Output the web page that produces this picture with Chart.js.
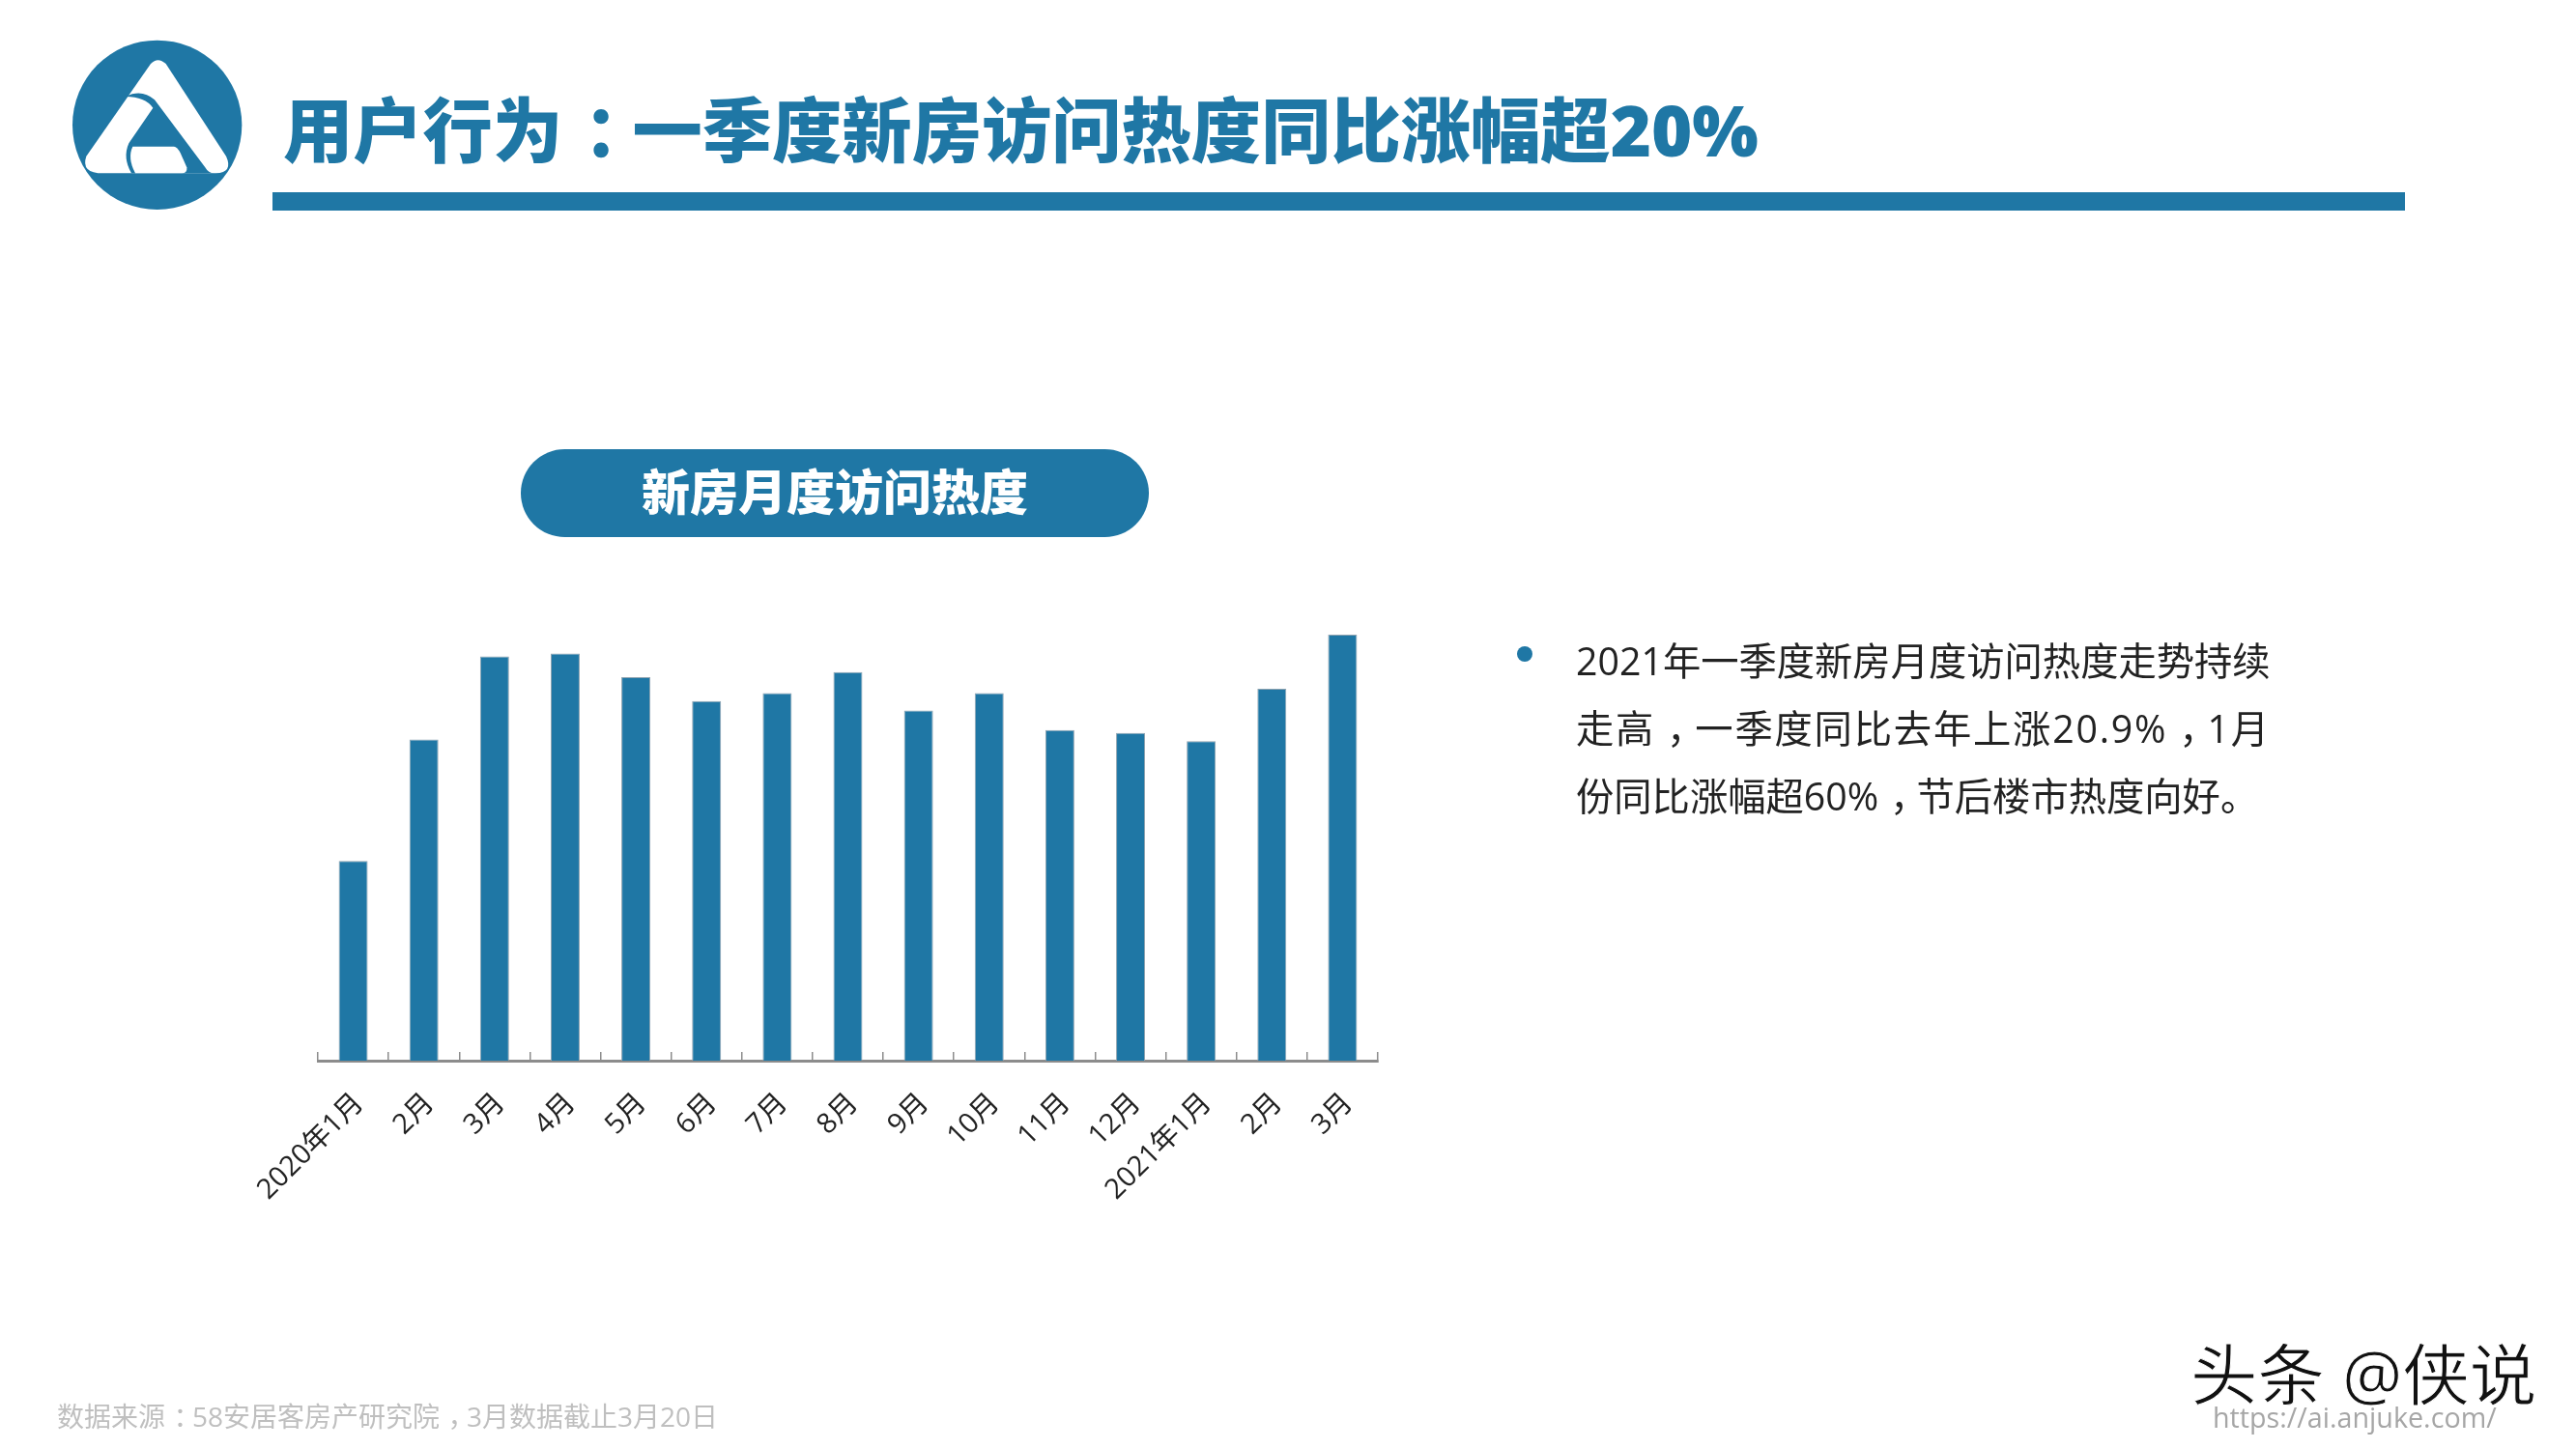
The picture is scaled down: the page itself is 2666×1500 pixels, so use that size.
<!DOCTYPE html>
<html lang="zh">
<head>
<meta charset="utf-8">
<title>新房月度访问热度</title>
<script src="https://cdn.jsdelivr.net/npm/chart.js@4"></script>
<style>
html, body { margin: 0; padding: 0; background: #fff; }
body { width: 2666px; height: 1500px; position: relative; overflow: hidden; font-family: "Open Sans", "Noto Sans CJK SC", sans-serif; }
#chartBox { position: absolute; left: 0; top: 0; width: 2666px; height: 1500px; }
.abs { position: absolute; white-space: nowrap; }
.comma { position: relative; left: 0.3em; }
#logo { left: 50px; top: 20px; width: 240px; height: 220px; }
#title { left: 293px; top: 84px; font-size: 72.3px; line-height: 100px; font-weight: 900; color: #1f77a5; }
#rule { left: 282px; top: 199px; width: 2207px; height: 19px; background: #1f77a5; }
#pill { left: 539px; top: 465px; width: 650px; height: 91px; border-radius: 46px; background: #1f77a5; color: #fff; font-size: 50px; line-height: 88px; font-weight: 900; text-align: center; }
#bullet { left: 1570px; top: 669px; width: 16px; height: 16px; border-radius: 50%; background: #1f77a5; }
.note { left: 1631px; font-size: 39.3px; line-height: 70px; color: #222; }
#source { left: 59px; top: 1447px; font-size: 28px; line-height: 38px; color: #bfbfbf; }
#mark { left: 2267px; top: 1377px; font-size: 69.5px; line-height: 90px; color: #111; -webkit-text-stroke: 1px #fff; }
#url { left: 2290px; top: 1448px; font-size: 28.7px; line-height: 38px; color: #a6a6a6; }
</style>
</head>
<body>
<div id="chartBox"><canvas id="heatChart"></canvas></div>

<svg id="logo" class="abs" viewBox="0 0 720 660">
  <circle cx="338" cy="328" r="263" fill="#1f77a5"/>
  <path d="M318 138 Q340 115 365 138 L552 425 Q575 475 520 478 L170 478 Q100 478 118 425 Z" fill="#fff"/>
  <path d="M240 240 Q290 215 330 250 L487 460 Q497 478 515 478 L258 478 Q230 430 250 385 L325 275 Q300 240 240 240 Z" fill="#1f77a5"/>
  <path d="M262 395 L390 395 Q400 395 410 415 L430 460 Q432 478 415 478 L270 478 Q245 430 262 395 Z" fill="#fff"/>
</svg>

<div id="title" class="abs">用户行为<span class="comma">：</span>一季度新房访问热度同比涨幅超20%</div>
<div id="rule" class="abs"></div>
<div id="pill" class="abs">新房月度访问热度</div>

<div id="bullet" class="abs"></div>
<div class="abs note" style="top:649px">2021年一季度新房月度访问热度走势持续</div>
<div class="abs note" style="top:719px;letter-spacing:1.8px">走高<span class="comma">，</span>一季度同比去年上涨20.9%<span class="comma">，</span>1月</div>
<div class="abs note" style="top:789px">份同比涨幅超60%<span class="comma">，</span>节后楼市热度向好。</div>

<div id="source" class="abs">数据来源<span class="comma">：</span>58安居客房产研究院<span class="comma">，</span>3月数据截止3月20日</div>
<div id="mark" class="abs">头条 @侠说</div>
<div id="url" class="abs">https://ai.anjuke.com/</div>

<script>
// values, the original has no y axis so this is an index (last bar = 100)
const months = ['2020年1月', '2月', '3月', '4月', '5月', '6月', '7月', '8月', '9月', '10月', '11月', '12月', '2021年1月', '2月', '3月'];
const heat = [46.9, 75.4, 94.9, 95.6, 90.0, 84.4, 86.3, 91.2, 82.2, 86.3, 77.6, 76.9, 75.0, 87.3, 100];

const ctx = document.getElementById('heatChart').getContext('2d');
new Chart(ctx, {
    type: 'bar',
    data: {
        labels: months,
        datasets: [{
            data: heat,
            backgroundColor: '#1f77a5',
            borderColor: '#8fa3b0',
            borderWidth: 1,
            categoryPercentage: 1,
            barPercentage: 0.41
        }]
    },
    options: {
        responsive: true,
        maintainAspectRatio: false,
        animation: false,
        layout: { padding: { left: 329, right: 1240, top: 657, bottom: 0 } },
        plugins: { legend: { display: false }, tooltip: { enabled: false } },
        scales: {
            x: {
                afterFit: scale => { scale.height = 402; },
                border: { color: '#8c8c8c', width: 3 },
                grid: { drawOnChartArea: false, color: '#8c8c8c', lineWidth: 1.5, tickLength: -9 },
                ticks: {
                    color: '#222',
                    font: { family: '"Open Sans", "Noto Sans CJK SC", sans-serif', size: 29 },
                    minRotation: 45,
                    maxRotation: 45,
                    padding: 36,
                    labelOffset: 6,
                    autoSkip: false
                }
            },
            y: { display: false, min: 0, max: 100 }
        }
    }
});
</script>
</body>
</html>
